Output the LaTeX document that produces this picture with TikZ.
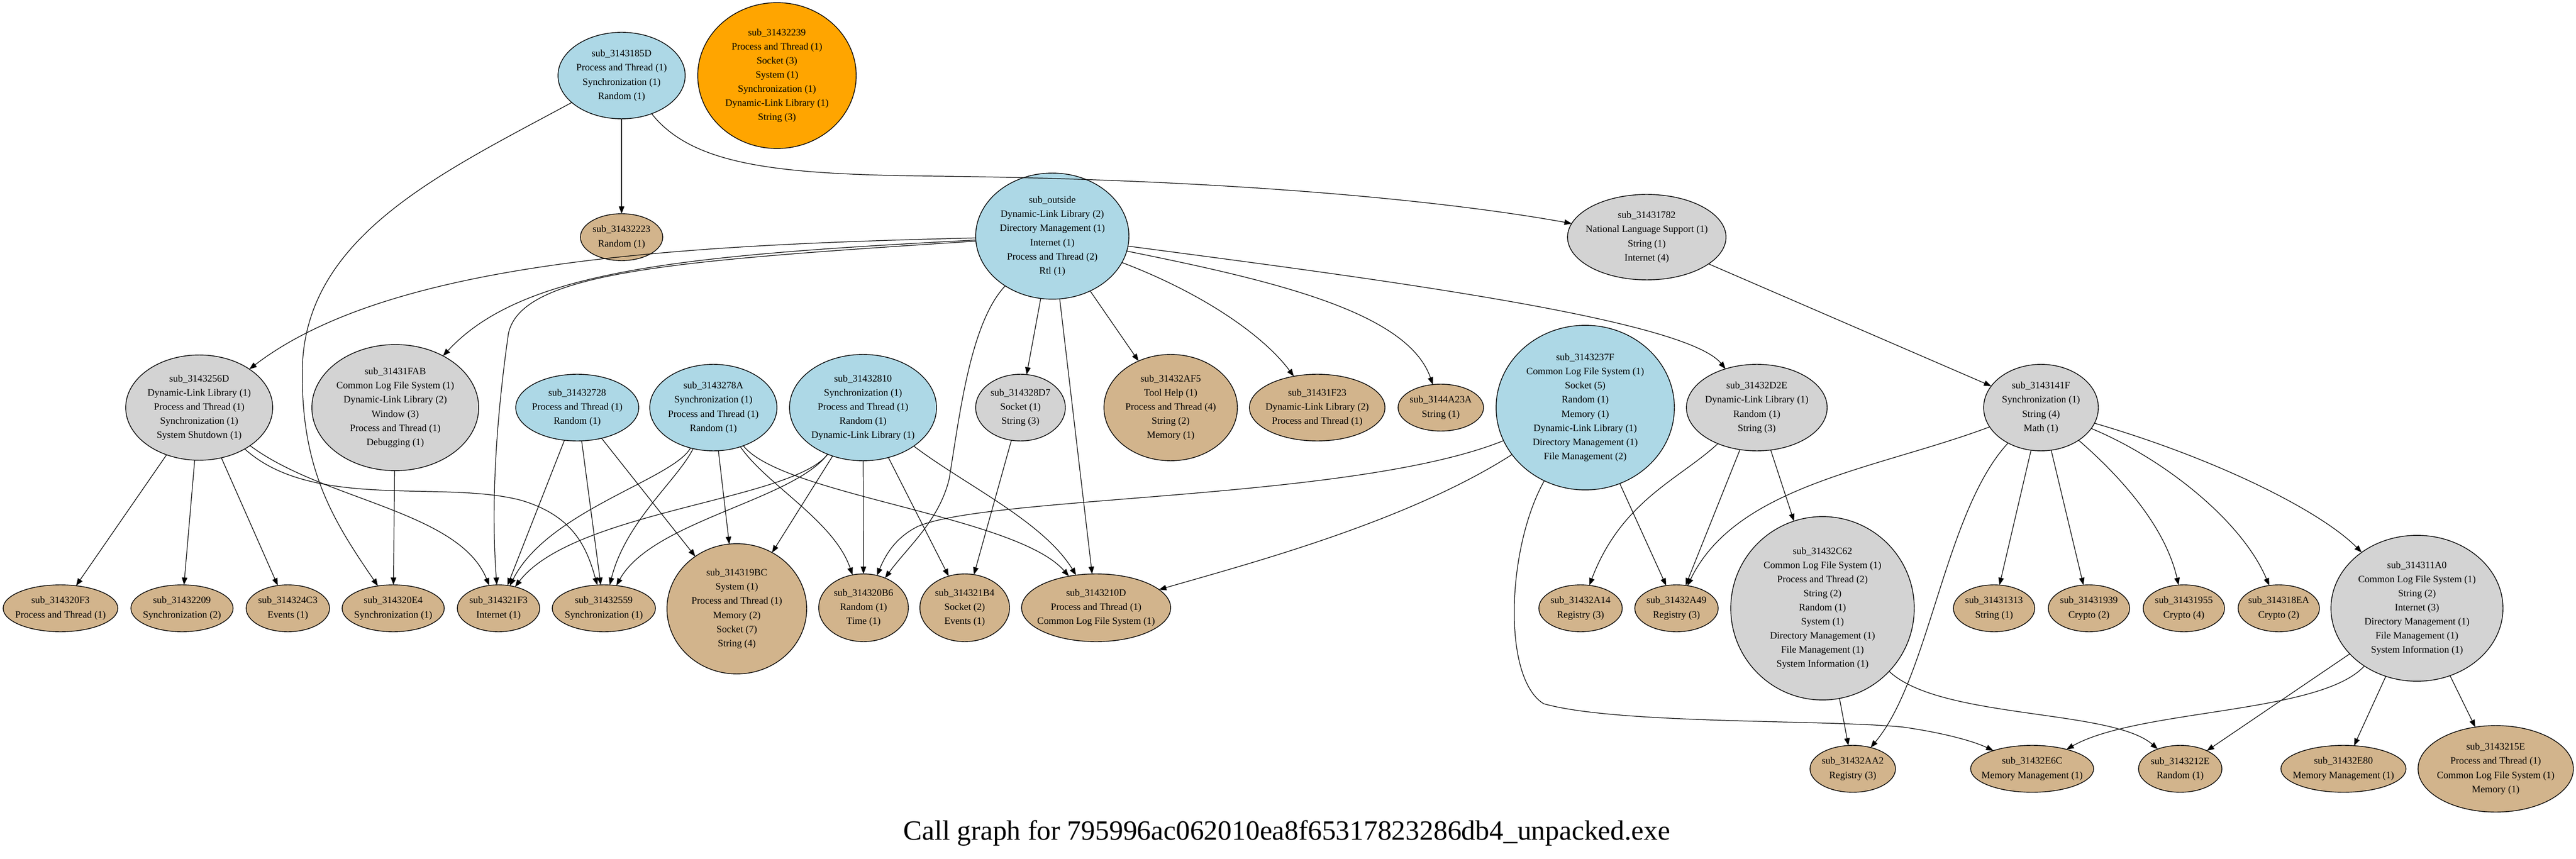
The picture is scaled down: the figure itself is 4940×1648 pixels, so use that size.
\documentclass[tikz,border=0pt]{standalone}
\usepackage{fontspec}
\setmainfont{Liberation Serif}
\usetikzlibrary{shapes.geometric,arrows.meta}
\definecolor{cblue}{HTML}{ADD8E6}
\definecolor{cgray}{HTML}{D3D3D3}
\definecolor{ctan}{HTML}{D2B48C}
\definecolor{corange}{HTML}{FFA500}
\tikzset{
 fn/.style={ellipse, draw=black, line width=0.8pt, inner sep=0pt, outer sep=0pt},
 lb/.style={align=center, font=\fontsize{10.7pt}{15.4pt}\selectfont, inner sep=0pt},
 edge/.style={line width=0.7pt, -{Triangle[length=0.28cm,width=0.21cm]}},
}
\newcommand\fnode[7]{%
 \node[fn, fill=#5, minimum width=#3*0.04cm, minimum height=#4*0.04cm] (#6) at (#1,#2) {};
 \node[lb] (#6t) at (#6.center) {#7};}
\begin{document}
\begin{tikzpicture}[x=0.02cm,y=-0.02cm]
\fill[white] (0,0) rectangle (4940,1648);
\useasboundingbox (0,0) rectangle (4940,1648);
% rank 0
\fnode{1192}{145}{122}{83}{cblue}{n185D}{sub\_3143185D\\Process and Thread (1)\\Synchronization (1)\\Random (1)}
\fnode{1490}{145}{152}{140}{corange}{n2239}{sub\_31432239\\Process and Thread (1)\\Socket (3)\\System (1)\\Synchronization (1)\\Dynamic-Link Library (1)\\String (3)}
% rank 1
\fnode{1192}{455}{79}{45}{ctan}{n2223}{sub\_31432223\\Random (1)}
\fnode{2018}{453}{147}{121}{cblue}{nout}{sub\_outside\\Dynamic-Link Library (2)\\Directory Management (1)\\Internet (1)\\Process and Thread (2)\\Rtl (1)}
\fnode{3158}{455}{152}{82}{cgray}{n1782}{sub\_31431782\\National Language Support (1)\\String (1)\\Internet (4)}
% rank 2
\fnode{382}{782}{141}{101}{cgray}{n256D}{sub\_3143256D\\Dynamic-Link Library (1)\\Process and Thread (1)\\Synchronization (1)\\System Shutdown (1)}
\fnode{758}{782}{160}{121}{cgray}{nFAB}{sub\_31431FAB\\Common Log File System (1)\\Dynamic-Link Library (2)\\Window (3)\\Process and Thread (1)\\Debugging (1)}
\fnode{1107}{782}{118}{64}{cblue}{n2728}{sub\_31432728\\Process and Thread (1)\\Random (1)}
\fnode{1368}{782}{122}{83}{cblue}{n278A}{sub\_3143278A\\Synchronization (1)\\Process and Thread (1)\\Random (1)}
\fnode{1655}{782}{141}{102}{cblue}{n2810}{sub\_31432810\\Synchronization (1)\\Process and Thread (1)\\Random (1)\\Dynamic-Link Library (1)}
\fnode{1957}{782}{86}{64}{cgray}{n28D7}{sub\_314328D7\\Socket (1)\\String (3)}
\fnode{2245}{782}{128}{102}{ctan}{n2AF5}{sub\_31432AF5\\Tool Help (1)\\Process and Thread (4)\\String (2)\\Memory (1)}
\fnode{2526}{782}{130}{64}{ctan}{n1F23}{sub\_31431F23\\Dynamic-Link Library (2)\\Process and Thread (1)}
\fnode{2763}{782}{82}{45}{ctan}{n4A23A}{sub\_3144A23A\\String (1)}
\fnode{3040}{782}{171}{158}{cblue}{n237F}{sub\_3143237F\\Common Log File System (1)\\Socket (5)\\Random (1)\\Memory (1)\\Dynamic-Link Library (1)\\Directory Management (1)\\File Management (2)}
\fnode{3369}{782}{135}{83}{cgray}{nD2E}{sub\_31432D2E\\Dynamic-Link Library (1)\\Random (1)\\String (3)}
\fnode{3914}{782}{110}{83}{cgray}{n141F}{sub\_3143141F\\Synchronization (1)\\String (4)\\Math (1)}
% rank 3
\fnode{116}{1167}{110}{45}{ctan}{n20F3}{sub\_314320F3\\Process and Thread (1)}
\fnode{349}{1167}{98}{45}{ctan}{n2209}{sub\_31432209\\Synchronization (2)}
\fnode{552}{1167}{80}{45}{ctan}{n24C3}{sub\_314324C3\\Events (1)}
\fnode{754}{1167}{98}{45}{ctan}{n20E4}{sub\_314320E4\\Synchronization (1)}
\fnode{956}{1167}{79}{45}{ctan}{n21F3}{sub\_314321F3\\Internet (1)}
\fnode{1158}{1167}{99}{45}{ctan}{n2559}{sub\_31432559\\Synchronization (1)}
\fnode{1413}{1168}{134}{125}{ctan}{n19BC}{sub\_314319BC\\System (1)\\Process and Thread (1)\\Memory (2)\\Socket (7)\\String (4)}
\fnode{1656}{1166}{86}{65}{ctan}{n20B6}{sub\_314320B6\\Random (1)\\Time (1)}
\fnode{1850}{1166}{86}{65}{ctan}{n21B4}{sub\_314321B4\\Socket (2)\\Events (1)}
\fnode{2102}{1166}{143}{65}{ctan}{n210D}{sub\_3143210D\\Process and Thread (1)\\Common Log File System (1)}
\fnode{3031}{1167}{80}{45}{ctan}{n2A14}{sub\_31432A14\\Registry (3)}
\fnode{3215}{1167}{80}{45}{ctan}{n2A49}{sub\_31432A49\\Registry (3)}
\fnode{3495}{1167}{176}{176}{cgray}{nC62}{sub\_31432C62\\Common Log File System (1)\\Process and Thread (2)\\String (2)\\Random (1)\\System (1)\\Directory Management (1)\\File Management (1)\\System Information (1)}
\fnode{3824}{1167}{78}{45}{ctan}{n1313}{sub\_31431313\\String (1)}
\fnode{4006}{1167}{78}{45}{ctan}{n1939}{sub\_31431939\\Crypto (2)}
\fnode{4188}{1167}{78}{45}{ctan}{n1955}{sub\_31431955\\Crypto (4)}
\fnode{4370}{1167}{78}{45}{ctan}{n18EA}{sub\_314318EA\\Crypto (2)}
\fnode{4635}{1167}{165}{140}{cgray}{n11A0}{sub\_314311A0\\Common Log File System (1)\\String (2)\\Internet (3)\\Directory Management (1)\\File Management (1)\\System Information (1)}
% rank 4
\fnode{3553}{1475}{82}{45}{ctan}{nAA2}{sub\_31432AA2\\Registry (3)}
\fnode{3897}{1475}{118}{45}{ctan}{nE6C}{sub\_31432E6C\\Memory Management (1)}
\fnode{4181}{1475}{80}{45}{ctan}{n212E}{sub\_3143212E\\Random (1)}
\fnode{4494}{1475}{120}{45}{ctan}{nE80}{sub\_31432E80\\Memory Management (1)}
\fnode{4786}{1475}{149}{83}{ctan}{n215E}{sub\_3143215E\\Process and Thread (1)\\Common Log File System (1)\\Memory (1)}
% title
\node[font=\fontsize{30.5pt}{36pt}\selectfont, inner sep=0pt] (title) at (2468,1598) {Call graph for 795996ac062010ea8f65317823286db4\_unpacked.exe};
% edges from sub_3143185D
\draw[edge] (n185D) -- (n2223);
\draw[edge] (n185D) .. controls (1330,320) and (1500,335) .. (1800,338) .. controls (2400,345) and (2800,390) .. (n1782);
\draw[edge] (n185D) .. controls (850,330) and (590,450) .. (580,700) .. controls (575,900) and (640,1000) .. (n20E4);
\draw[edge] (n1782) -- (n141F);
% edges from sub_outside
\draw[edge] (nout) .. controls (1300,470) and (750,500) .. (n256D);
\draw[edge] (nout) .. controls (1300,490) and (1000,520) .. (nFAB);
\draw[edge] (nout) .. controls (1300,500) and (1000,520) .. (975,640) .. controls (955,780) and (940,950) .. (n21F3);
\draw[edge] (nout) .. controls (1860,620) and (1840,800) .. (1820,920) .. controls (1800,1000) and (1740,1050) .. (n20B6);
\draw[edge] (nout) -- (n28D7);
\draw[edge] (nout) -- (n210D);
\draw[edge] (nout) -- (n2AF5);
\draw[edge] (nout) .. controls (2300,560) and (2420,640) .. (n1F23);
\draw[edge] (nout) .. controls (2450,540) and (2700,600) .. (n4A23A);
\draw[edge] (nout) .. controls (2600,530) and (3230,610) .. (nD2E);
% edges from sub_3143256D
\draw[edge] (n256D) -- (n20F3);
\draw[edge] (n256D) -- (n2209);
\draw[edge] (n256D) -- (n24C3);
\draw[edge] (n256D) .. controls (620,960) and (880,980) .. (n21F3);
\draw[edge] (n256D) .. controls (600,980) and (850,920) .. (1000,960) .. controls (1100,990) and (1125,1050) .. (n2559);
\draw[edge] (nFAB) -- (n20E4);
% sub_31432728
\draw[edge] (n2728) -- (n21F3);
\draw[edge] (n2728) -- (n2559);
\draw[edge] (n2728) -- (n19BC);
% sub_3143278A
\draw[edge] (n278A) .. controls (1290,920) and (1050,980) .. (n21F3);
\draw[edge] (n278A) .. controls (1300,920) and (1200,1000) .. (n2559);
\draw[edge] (n278A) -- (n19BC);
\draw[edge] (n278A) .. controls (1470,930) and (1600,1000) .. (n20B6);
\draw[edge] (n278A) .. controls (1500,950) and (1950,990) .. (n210D);
% sub_31432810
\draw[edge] (n2810) .. controls (1520,960) and (1100,980) .. (n21F3);
\draw[edge] (n2810) .. controls (1520,960) and (1250,1000) .. (n2559);
\draw[edge] (n2810) -- (n19BC);
\draw[edge] (n2810) -- (n20B6);
\draw[edge] (n2810) -- (n21B4);
\draw[edge] (n2810) .. controls (1850,930) and (2000,1000) .. (n210D);
\draw[edge] (n28D7) -- (n21B4);
% sub_3143237F
\draw[edge] (n237F) .. controls (2700,1000) and (2400,1080) .. (n210D);
\draw[edge] (n237F) .. controls (2600,960) and (1900,950) .. (1760,1010) .. controls (1720,1030) and (1700,1060) .. (n20B6);
\draw[edge] (n237F) -- (n2A49);
\draw[edge] (n237F) .. controls (2890,1050) and (2880,1300) .. (2960,1350) .. controls (3100,1390) and (3500,1380) .. (3650,1395) .. controls (3720,1405) and (3780,1420) .. (nE6C);
% sub_31432D2E
\draw[edge] (nD2E) .. controls (3220,920) and (3110,960) .. (n2A14);
\draw[edge] (nD2E) -- (n2A49);
\draw[edge] (nD2E) -- (nC62);
% sub_3143141F
\draw[edge] (n141F) .. controls (3600,900) and (3330,930) .. (n2A49);
\draw[edge] (n141F) .. controls (3730,980) and (3700,1300) .. (nAA2);
\draw[edge] (n141F) -- (n1313);
\draw[edge] (n141F) -- (n1939);
\draw[edge] (n141F) .. controls (4050,900) and (4150,1000) .. (n1955);
\draw[edge] (n141F) .. controls (4150,880) and (4300,1000) .. (n18EA);
\draw[edge] (n141F) .. controls (4250,880) and (4450,980) .. (n11A0);
% sub_31432C62
\draw[edge] (nC62) -- (nAA2);
\draw[edge] (nC62) .. controls (3720,1380) and (4050,1360) .. (n212E);
% sub_314311A0
\draw[edge] (n11A0) .. controls (4450,1370) and (4100,1360) .. (nE6C);
\draw[edge] (n11A0) -- (n212E);
\draw[edge] (n11A0) -- (nE80);
\draw[edge] (n11A0) -- (n215E);
\end{tikzpicture}
\end{document}
